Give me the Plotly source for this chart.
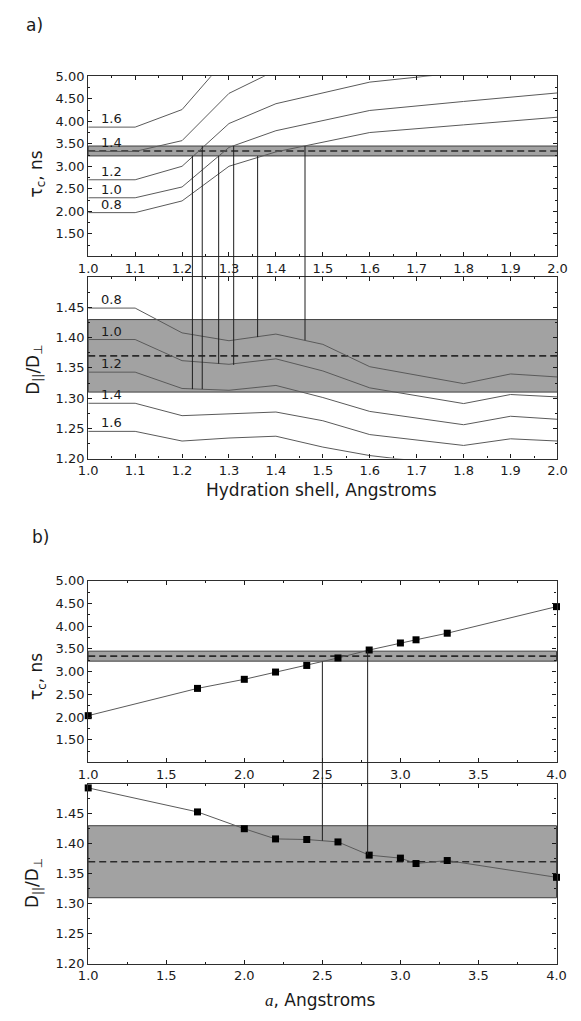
import plotly.graph_objects as go

# ---------------- data ----------------
# panel a: hydration shell thickness (Angstroms)
hs = [1.0, 1.1, 1.2, 1.3, 1.4, 1.5, 1.6, 1.8, 1.9, 2.0]
aniso_labels = ["0.8", "1.0", "1.2", "1.4", "1.6"]

# tau_c (ns) vs hydration shell for each anisotropy value
tau_08 = [1.97, 1.97, 2.23, 3.00, 3.32, 3.535, 3.75, 3.92, 4.005, 4.09]
tau_10 = [2.30, 2.30, 2.54, 3.42, 3.79, 4.01, 4.24, 4.44, 4.535, 4.63]
tau_12 = [2.70, 2.70, 3.00, 3.95, 4.39, 4.63, 4.87, 5.09, None, None]
tau_14 = [3.33, 3.33, 3.57, 4.62, 5.13, None, None, None, None, None]
tau_16 = [3.87, 3.87, 4.26, 5.46, None, None, None, None, None, None]

# D_par/D_perp vs hydration shell for each anisotropy value
D_08 = [1.449, 1.449, 1.408, 1.395, 1.406, 1.389, 1.352, 1.324, 1.340, 1.335]
D_10 = [1.397, 1.397, 1.362, 1.356, 1.365, 1.345, 1.317, 1.291, 1.306, 1.302]
D_12 = [1.343, 1.343, 1.316, 1.313, 1.321, 1.301, 1.278, 1.256, 1.270, 1.265]
D_14 = [1.2915, 1.2915, 1.271, 1.2735, 1.277, 1.2626, 1.2397, 1.2217, 1.2327, 1.229]
D_16 = [1.245, 1.245, 1.229, 1.234, 1.237, 1.219, 1.205, 1.187, None, None]

# experimental bands
tau_band = [3.23, 3.45]
tau_mean = 3.34
D_band = [1.31, 1.43]
D_mean = 1.37

# panel a: band crossings (hydration shell, tau edge, matching D value)
a_cross_x = [1.222, 1.243, 1.278, 1.310, 1.361, 1.462]
a_cross_tau = [3.23, 3.45, 3.23, 3.45, 3.23, 3.45]
a_cross_D = [1.315, 1.315, 1.357, 1.355, 1.401, 1.396]

# panel b: parameter a (Angstroms)
a_vals = [1.0, 1.7, 2.0, 2.2, 2.4, 2.6, 2.8, 3.0, 3.1, 3.3, 4.0]
tau_b = [2.03, 2.63, 2.83, 2.99, 3.135, 3.30, 3.475, 3.63, 3.70, 3.845, 4.43]
D_b = [1.493, 1.453, 1.425, 1.408, 1.407, 1.403, 1.381, 1.376, 1.367, 1.372, 1.344]

b_cross_x = [2.50, 2.79]
b_cross_tau = [3.22, 3.45]
b_cross_D = [1.405, 1.382]

# ticks
hs_ticks = [1.0, 1.1, 1.2, 1.3, 1.4, 1.5, 1.6, 1.7, 1.8, 1.9, 2.0]
a_ticks = [1.0, 1.5, 2.0, 2.5, 3.0, 3.5, 4.0]
tau_ticks = [1.5, 2.0, 2.5, 3.0, 3.5, 4.0, 4.5, 5.0]
D_ticks = [1.20, 1.25, 1.30, 1.35, 1.40, 1.45]

# ---------------- layout helpers ----------------
W, H = 581, 1021
def px(x): return x / W
def py(y): return 1 - y / H

xa_dom = [px(81), px(567)]
xb_dom = [px(81), px(566)]
ya_top = [py(253), py(70.3)]
ya_bot = [py(458.3), py(274.3)]
yb_top = [py(766.7), py(582.3)]
yb_bot = [py(971), py(788.3)]

tau_rng = [1.0, 5.0]
D_rng = [1.2, 1.5]

def to_paper(v, dom, rng):
    return dom[0] + (v - rng[0]) / (rng[1] - rng[0]) * (dom[1] - dom[0])

FONT = "DejaVu Sans"
INK = "#1a1a1a"
CURVE = "#5a5a5a"

fig = go.Figure()

tau_a = [tau_08, tau_10, tau_12, tau_14, tau_16]
D_a = [D_08, D_10, D_12, D_14, D_16]
for t in tau_a:
    fig.add_trace(go.Scatter(x=hs, y=t, mode="lines", xaxis="x", yaxis="y",
                             line=dict(color=CURVE, width=1), showlegend=False,
                             hoverinfo="skip"))
for d in D_a:
    fig.add_trace(go.Scatter(x=hs, y=d, mode="lines", xaxis="x2", yaxis="y2",
                             line=dict(color=CURVE, width=1), showlegend=False,
                             hoverinfo="skip"))

fig.add_trace(go.Scatter(x=a_vals, y=tau_b, mode="lines+markers", xaxis="x3", yaxis="y3",
                         line=dict(color=CURVE, width=1),
                         marker=dict(symbol="square", size=7, color="black"),
                         cliponaxis=False, showlegend=False))
fig.add_trace(go.Scatter(x=a_vals, y=D_b, mode="lines+markers", xaxis="x4", yaxis="y4",
                         line=dict(color=CURVE, width=1),
                         marker=dict(symbol="square", size=7, color="black"),
                         cliponaxis=False, showlegend=False))

shapes = []
def band(xref, yref, lo, hi, mid):
    shapes.append(dict(type="rect", xref=xref + " domain", yref=yref, x0=0, x1=1,
                       y0=lo, y1=hi, fillcolor="#a2a2a2",
                       line=dict(color="#404040", width=1), layer="below"))
    shapes.append(dict(type="line", xref=xref + " domain", yref=yref, x0=0, x1=1,
                       y0=mid, y1=mid, line=dict(color="#2a2a2a", width=1.6, dash="7px,4px"),
                       layer="below"))

band("x", "y", tau_band[0], tau_band[1], tau_mean)
band("x2", "y2", D_band[0], D_band[1], D_mean)
band("x3", "y3", tau_band[0], tau_band[1], tau_mean)
band("x4", "y4", D_band[0], D_band[1], D_mean)

for xc, tc, dc in zip(a_cross_x, a_cross_tau, a_cross_D):
    shapes.append(dict(type="line", xref="x", yref="paper", x0=xc, x1=xc,
                       y0=to_paper(dc, ya_bot, D_rng), y1=to_paper(tc, ya_top, tau_rng),
                       line=dict(color="#1e1e1e", width=1)))
for xc, tc, dc in zip(b_cross_x, b_cross_tau, b_cross_D):
    shapes.append(dict(type="line", xref="x3", yref="paper", x0=xc, x1=xc,
                       y0=to_paper(dc, yb_bot, D_rng), y1=to_paper(tc, yb_top, tau_rng),
                       line=dict(color="#1e1e1e", width=1)))

ann = []
for lab, t, d in zip(aniso_labels, tau_a, D_a):
    ann.append(dict(x=1.05, y=t[0], xref="x", yref="y", text=lab, showarrow=False,
                    yanchor="bottom", yshift=-1, font=dict(family=FONT, size=13, color=INK)))
    ann.append(dict(x=1.05, y=d[0], xref="x2", yref="y2", text=lab, showarrow=False,
                    yanchor="bottom", yshift=-1, font=dict(family=FONT, size=13, color=INK)))

def ptext(text, x, y, size=17, angle=0):
    ann.append(dict(x=px(x), y=py(y), xref="paper", yref="paper", text=text,
                    showarrow=False, textangle=angle, xanchor="center", yanchor="middle",
                    font=dict(family=FONT, size=size, color=INK)))

ptext("a)", 25, 18)
ptext("b)", 32, 538)
ptext("τ<sub>c</sub>, ns", 28, 170, angle=-90)
ptext("D<sub>||</sub>/D<sub>⊥</sub>", 25, 368, angle=-90)
ptext("τ<sub>c</sub>, ns", 28, 680, angle=-90)
ptext("D<sub>||</sub>/D<sub>⊥</sub>", 25, 889, angle=-90)
ptext("Hydration shell, Angstroms", 323, 490)
ptext("<span style='font-family:Liberation Serif'><i>a</i></span>, Angstroms", 322, 1008)

def axis(dom, anchor, rng, tickvals, fmt, minor_dtick):
    return dict(domain=dom, anchor=anchor, range=rng, tickmode="array",
                tickvals=tickvals, ticktext=[fmt.format(v) for v in tickvals],
                ticks="inside", ticklen=4, tickwidth=1, tickcolor=INK,
                minor=dict(dtick=minor_dtick, tick0=rng[0], ticks="inside", ticklen=2,
                           tickcolor=INK, tickwidth=1),
                showline=True, linecolor="#2e2e2e", linewidth=1.3, mirror="ticks",
                showgrid=False, zeroline=False,
                tickfont=dict(family=FONT, size=13, color=INK))

fig.update_layout(
    width=W, height=H, margin=dict(l=0, r=0, t=0, b=0),
    paper_bgcolor="white", plot_bgcolor="white", showlegend=False,
    xaxis=axis(xa_dom, "y", [1.0, 2.0], hs_ticks, "{:.1f}", 0.05),
    yaxis=axis(ya_top, "x", tau_rng, tau_ticks, "{:.2f}", 0.25),
    xaxis2=axis(xa_dom, "y2", [1.0, 2.0], hs_ticks, "{:.1f}", 0.05),
    yaxis2=axis(ya_bot, "x2", D_rng, D_ticks, "{:.2f}", 0.025),
    xaxis3=axis(xb_dom, "y3", [1.0, 4.0], a_ticks, "{:.1f}", 0.25),
    yaxis3=axis(yb_top, "x3", tau_rng, tau_ticks, "{:.2f}", 0.25),
    xaxis4=axis(xb_dom, "y4", [1.0, 4.0], a_ticks, "{:.1f}", 0.25),
    yaxis4=axis(yb_bot, "x4", D_rng, D_ticks, "{:.2f}", 0.025),
    shapes=shapes, annotations=ann,
)

fig.write_html("out.html")
